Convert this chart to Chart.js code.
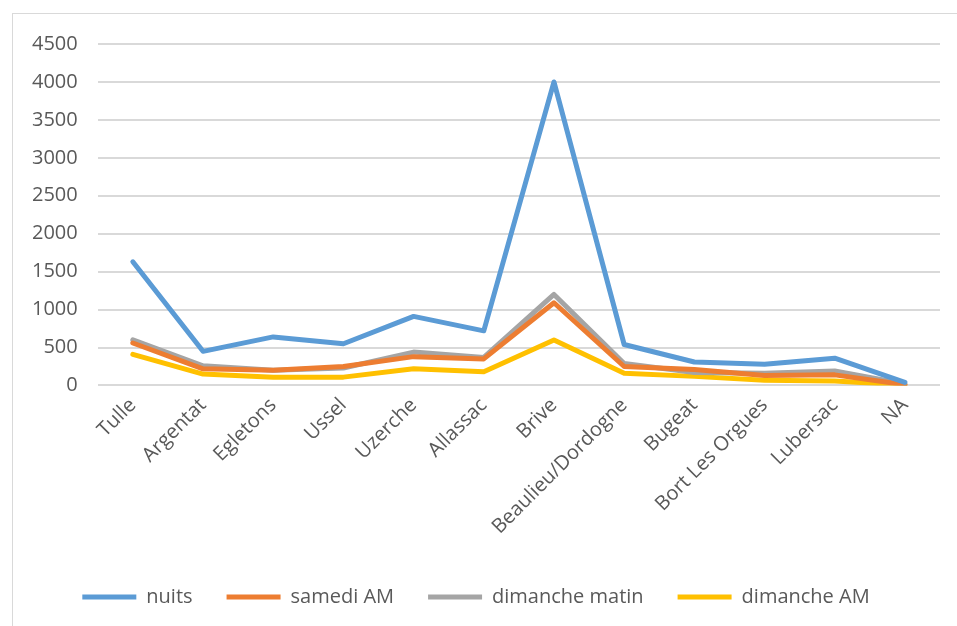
<!DOCTYPE html>
<html>
<head>
<meta charset="utf-8">
<script src="https://cdn.jsdelivr.net/npm/chart.js@4"></script>
<style>
  html, body { margin: 0; padding: 0; background: #fff; }
  #frame { position: absolute; left: 12px; top: 13px; width: 960px; height: 620px; border: 1px solid #d9d9d9; }
  #wrap { position: absolute; left: 0; top: 0; width: 957px; height: 626px; }
</style>
</head>
<body>
<div id="frame"></div>
<div id="wrap"><canvas id="chart"></canvas></div>
<script>
var towns = ['Tulle', 'Argentat', 'Egletons', 'Ussel', 'Uzerche', 'Allassac', 'Brive',
    'Beaulieu/Dordogne', 'Bugeat', 'Bort Les Orgues', 'Lubersac', 'NA'];
var nuits = [1630, 450, 640, 550, 910, 720, 4000, 540, 310, 280, 360, 40];
var samediAM = [560, 220, 200, 250, 380, 350, 1090, 250, 210, 130, 140, 10];
var dimancheMatin = [600, 260, 200, 230, 440, 370, 1200, 290, 170, 160, 190, 20];
var dimancheAM = [410, 150, 110, 110, 220, 180, 600, 160, 120, 70, 60, 5];

function line(label, data, color) {
    return {
        label: label,
        data: data,
        borderColor: color,
        backgroundColor: color,
        borderWidth: 5,
        borderCapStyle: 'round',
        borderJoinStyle: 'round',
        pointRadius: 0,
        pointHoverRadius: 0,
        pointStyle: 'line',
        tension: 0
    };
}

Chart.defaults.font.family = '"Open Sans", sans-serif';
Chart.defaults.font.size = 20;
Chart.defaults.color = '#595959';

var ctx = document.getElementById('chart');
var myChart = new Chart(ctx, {
    type: 'line',
    data: {
        labels: towns,
        datasets: [
            line('nuits', nuits, '#5b9bd5'),
            line('samedi AM', samediAM, '#ed7d31'),
            line('dimanche matin', dimancheMatin, '#a5a5a5'),
            line('dimanche AM', dimancheAM, '#ffc000')
        ]
    },
    options: {
        responsive: true,
        maintainAspectRatio: false,
        animation: false,
        layout: { padding: { left: 12, right: 17, top: 44, bottom: 9 } },
        plugins: {
            tooltip: { enabled: false },
            legend: {
                position: 'bottom',
                labels: {
                    usePointStyle: true,
                    pointStyleWidth: 54,
                    padding: 34,
                    font: { size: 20 },
                    color: '#595959'
                }
            }
        },
        scales: {
            x: {
                offset: true,
                grid: { display: false, drawTicks: false },
                border: { display: false },
                ticks: { maxRotation: 45, minRotation: 45, padding: 8, autoSkip: false },
                afterFit: function (axis) { axis.height += 6; }
            },
            y: {
                min: 0,
                max: 4500,
                ticks: {
                    stepSize: 500,
                    padding: 20,
                    callback: function (v) { return String(v); }
                },
                grid: { color: '#d9d9d9', lineWidth: 2, drawTicks: false },
                border: { display: false }
            }
        }
    }
});
</script>
</body>
</html>
